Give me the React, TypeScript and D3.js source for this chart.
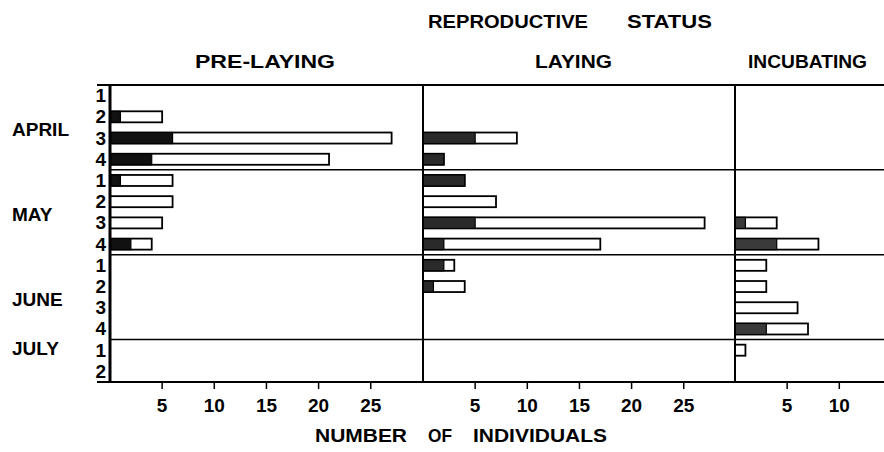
import * as d3 from "d3";
import React from "react";

const weeks = ["1", "2", "3", "4", "1", "2", "3", "4", "1", "2", "3", "4", "1", "2"];
const months = ["APRIL", "MAY", "JUNE", "JULY"];
const monthStart = [0, 4, 8, 12];
const monthLen = [4, 4, 4, 2];
const statuses = ["PRE-LAYING", "LAYING", "INCUBATING"];

// dark part = filled portion, total = full bar length
const preDark = [0, 1, 6, 4, 1, 0, 0, 2, 0, 0, 0, 0, 0, 0];
const preTotal = [0, 5, 27, 21, 6, 6, 5, 4, 0, 0, 0, 0, 0, 0];
const layDark = [0, 0, 5, 2, 4, 0, 5, 2, 2, 1, 0, 0, 0, 0];
const layTotal = [0, 0, 9, 2, 4, 7, 27, 17, 3, 4, 0, 0, 0, 0];
const incDark = [0, 0, 0, 0, 0, 0, 1, 4, 0, 0, 0, 3, 0, 0];
const incTotal = [0, 0, 0, 0, 0, 0, 4, 8, 3, 3, 6, 7, 1, 0];

const panelTicks = [
  [5, 10, 15, 20, 25],
  [5, 10, 15, 20, 25],
  [5, 10],
];

const W = 884;
const H = 452;
const top = 85;
const bottom = 382;
const panelLeft = [110, 423, 735];
const unit = 10.43;
const font = "'Liberation Sans', Arial, sans-serif";

// words of titles with their left / right edges
const headWords: [string, number, number, number][] = [
  ["REPRODUCTIVE", 428, 588, 28],
  ["STATUS", 627, 712, 28],
  ["PRE-LAYING", 195, 335, 68],
  ["LAYING", 535, 612, 68],
  ["INCUBATING", 748, 867, 68],
  ["NUMBER", 315, 407, 442],
  ["OF", 428, 452, 442],
  ["INDIVIDUALS", 473, 607, 442],
];

const App: React.FC = () => {
  const y = d3
    .scaleBand<number>()
    .domain(d3.range(weeks.length))
    .range([top, bottom])
    .paddingInner(0.48)
    .paddingOuter(0.24);
  const step = y.step();

  const xs = panelLeft.map((x0) =>
    d3.scaleLinear().domain([0, 30]).range([x0, x0 + 30 * unit])
  );
  const series = [
    { dark: preDark, total: preTotal, fill: "#111" },
    { dark: layDark, total: layTotal, fill: "#2a2a2a" },
    { dark: incDark, total: incTotal, fill: "#3a3a3a" },
  ];

  return (
    <svg
      width={W}
      height={H}
      style={{ position: "absolute", left: 0, top: 0, background: "#fff" }}
      fontFamily={font}
      fontWeight="bold"
    >
      {headWords.map(([w, x1, x2, ty]) => (
        <text
          key={w}
          x={x1}
          y={ty}
          fontSize={18}
          textLength={x2 - x1}
          lengthAdjust="spacingAndGlyphs"
        >
          {w}
        </text>
      ))}

      {/* bars */}
      {series.map((s, p) =>
        s.total.map((t, i) => {
          if (t === 0) return null;
          const x = xs[p];
          const by = y(i)!;
          const bh = y.bandwidth();
          return (
            <g key={`${p}-${i}`}>
              <rect
                x={x(0)}
                y={by}
                width={x(t) - x(0)}
                height={bh}
                fill="#fff"
                stroke="#000"
                strokeWidth={1.8}
              />
              {s.dark[i] > 0 && (
                <rect
                  x={x(0)}
                  y={by}
                  width={x(s.dark[i]) - x(0)}
                  height={bh}
                  fill={s.fill}
                  stroke="#000"
                  strokeWidth={1.2}
                />
              )}
            </g>
          );
        })
      )}

      {/* frame */}
      <line x1={97} x2={W} y1={top} y2={top} stroke="#000" strokeWidth={2} />
      <line x1={97} x2={W} y1={bottom} y2={bottom} stroke="#000" strokeWidth={2} />
      {monthStart.slice(1).map((m) => (
        <line
          key={m}
          x1={panelLeft[0]}
          x2={W}
          y1={top + m * step}
          y2={top + m * step}
          stroke="#000"
          strokeWidth={1.5}
        />
      ))}
      {panelLeft.map((x0, i) => (
        <line
          key={x0}
          x1={x0}
          x2={x0}
          y1={top}
          y2={bottom}
          stroke="#000"
          strokeWidth={i === 0 ? 3 : 2}
        />
      ))}

      {/* week labels */}
      {weeks.map((w, i) => (
        <text
          key={i}
          x={106}
          y={y(i)! + y.bandwidth() / 2}
          fontSize={19}
          textAnchor="end"
          dominantBaseline="central"
        >
          {w}
        </text>
      ))}
      {months.map((m, i) => {
        const mid =
          m === "JULY"
            ? y(monthStart[i])! + y.bandwidth() / 2 - 2
            : top + (monthStart[i] + monthLen[i] / 2) * step + 2;
        return (
          <text key={m} x={12} y={mid} fontSize={19} dominantBaseline="central">
            {m}
          </text>
        );
      })}

      {/* x ticks */}
      {panelTicks.map((ticks, p) =>
        ticks.map((t) => (
          <g key={`${p}-${t}`} transform={`translate(${xs[p](t)},${bottom})`}>
            <line y1={0} y2={7} stroke="#000" strokeWidth={1.5} />
            <text y={30} fontSize={19} textAnchor="middle">
              {t}
            </text>
          </g>
        ))
      )}
    </svg>
  );
};

export default App;
